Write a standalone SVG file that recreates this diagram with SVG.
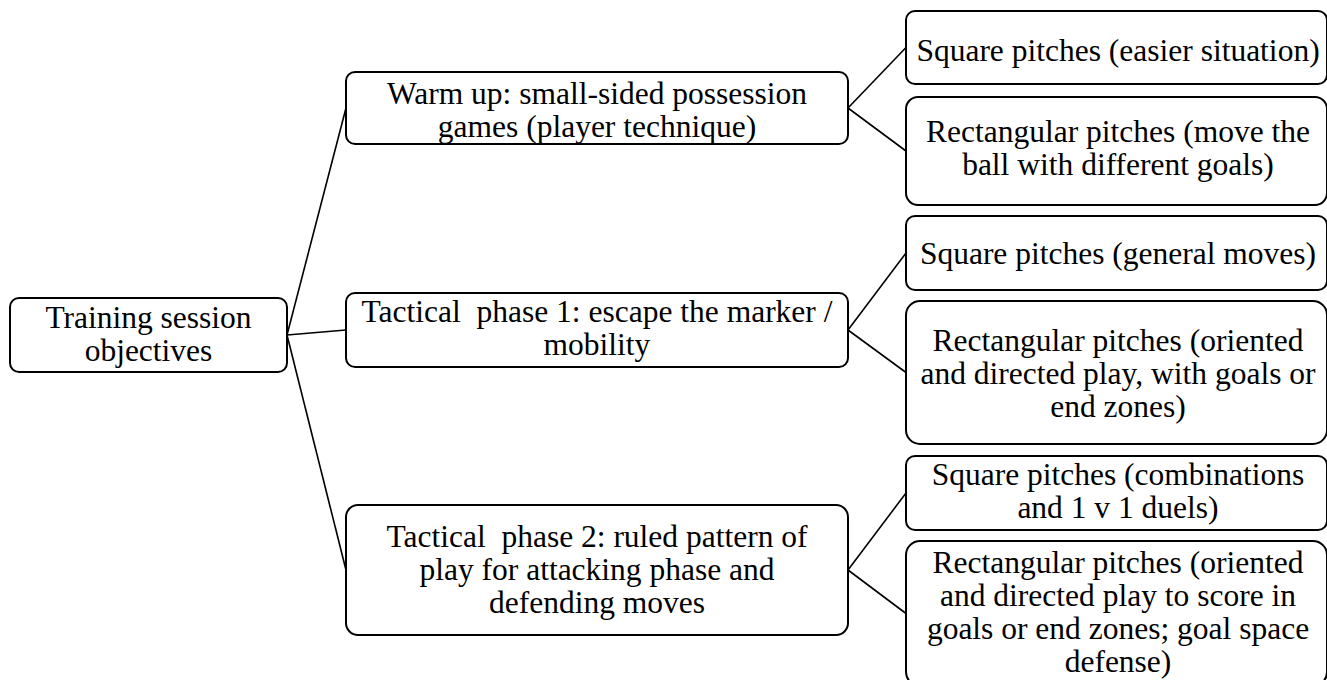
<svg xmlns="http://www.w3.org/2000/svg" width="1327" height="680" viewBox="0 0 1327 680">
<style>
.box{fill:#fff;stroke:#000;stroke-width:2}
.con line{stroke:#000;stroke-width:1.6}
text{font-family:'Liberation Serif','Times New Roman',serif;font-size:31.5px;fill:#000;text-anchor:middle}
</style>
<rect width="1327" height="680" fill="#fff"/>
<g id="connectors" class="con">
<line x1="287" y1="335" x2="346" y2="108"/>
<line x1="287" y1="335" x2="346" y2="330"/>
<line x1="287" y1="335" x2="346" y2="570"/>
<line x1="848" y1="108" x2="906" y2="47.5"/>
<line x1="848" y1="108" x2="906" y2="151"/>
<line x1="848" y1="330" x2="906" y2="253"/>
<line x1="848" y1="330" x2="906" y2="372.5"/>
<line x1="848" y1="570" x2="906" y2="493"/>
<line x1="848" y1="570" x2="906" y2="613.5"/>
</g>
<g id="root">
<rect class="box" x="10" y="298" width="277" height="74" rx="9"/>
<text x="148.5" y="328">Training session</text>
<text x="148.5" y="361">objectives</text>
</g>
<g id="warmup">
<rect class="box" x="346" y="72" width="502" height="72" rx="9"/>
<text x="597" y="104">Warm up: small-sided possession</text>
<text x="597" y="137">games (player technique)</text>
</g>
<g id="tactical1">
<rect class="box" x="346" y="293" width="502" height="74" rx="9"/>
<text x="597" y="322" xml:space="preserve">Tactical  phase 1: escape the marker /</text>
<text x="597" y="355">mobility</text>
</g>
<g id="tactical2">
<rect class="box" x="346" y="505" width="502" height="130" rx="12"/>
<text x="597" y="547" xml:space="preserve">Tactical  phase 2: ruled pattern of</text>
<text x="597" y="580">play for attacking phase and</text>
<text x="597" y="613">defending moves</text>
</g>
<g id="square1">
<rect class="box" x="906" y="11" width="421" height="73" rx="9"/>
<text x="1118" y="61">Square pitches (easier situation)</text>
</g>
<g id="rect1">
<rect class="box" x="906" y="97" width="421" height="108" rx="12"/>
<text x="1118" y="142">Rectangular pitches (move the</text>
<text x="1118" y="175">ball with different goals)</text>
</g>
<g id="square2">
<rect class="box" x="906" y="216" width="421" height="74" rx="9"/>
<text x="1118" y="264">Square pitches (general moves)</text>
</g>
<g id="rect2">
<rect class="box" x="906" y="301" width="421" height="143" rx="14"/>
<text x="1118" y="351">Rectangular pitches (oriented</text>
<text x="1118" y="384">and directed play, with goals or</text>
<text x="1118" y="417">end zones)</text>
</g>
<g id="square3">
<rect class="box" x="906" y="456" width="421" height="74" rx="9"/>
<text x="1118" y="485">Square pitches (combinations</text>
<text x="1118" y="518">and 1 v 1 duels)</text>
</g>
<g id="rect3">
<rect class="box" x="906" y="541" width="421" height="145" rx="14"/>
<text x="1118" y="573">Rectangular pitches (oriented</text>
<text x="1118" y="606">and directed play to score in</text>
<text x="1118" y="639">goals or end zones; goal space</text>
<text x="1118" y="672">defense)</text>
</g>
</svg>
